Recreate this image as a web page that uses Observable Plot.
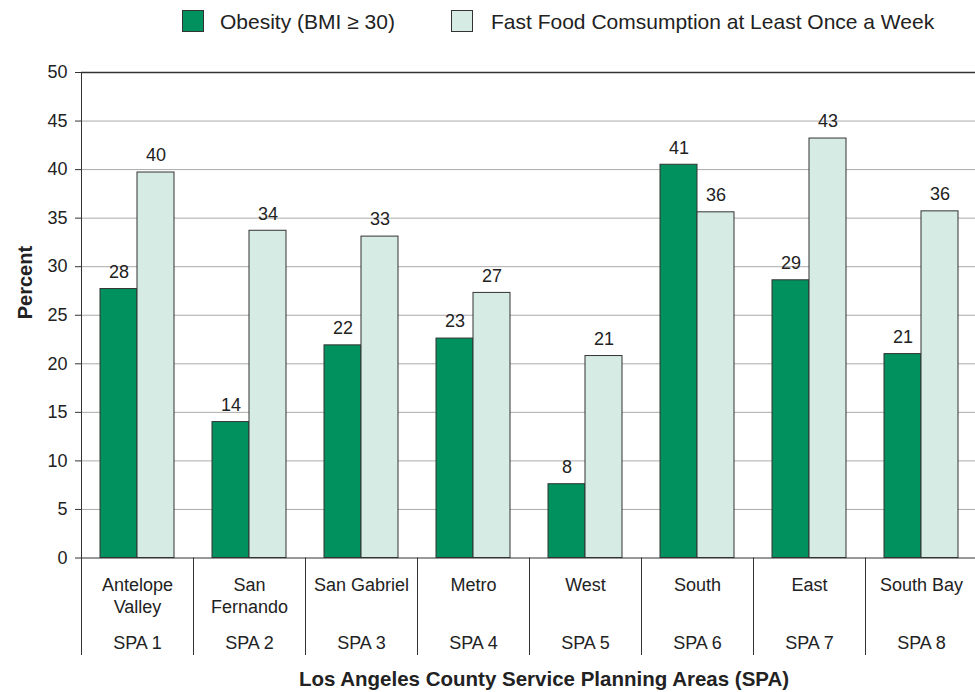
<!DOCTYPE html>
<html>
<head>
<meta charset="utf-8">
<script src="https://cdn.jsdelivr.net/npm/d3@7"></script>
<script src="https://cdn.jsdelivr.net/npm/@observablehq/plot@0.6"></script>
<style>
  html, body { margin: 0; padding: 0; background: #fff; }
  body { position: relative; width: 975px; height: 692px; overflow: hidden;
         font-family: "Liberation Sans", Arial, Helvetica, sans-serif; color: #222; }
  #legend { position: absolute; left: 0; top: 0; width: 975px; height: 50px; }
  .sw { position: absolute; top: 10px; width: 22px; height: 22px; border: 1px solid #333; box-sizing: border-box; }
  .lt { position: absolute; top: 21px; transform: translateY(-50%); font-size: 21px; white-space: nowrap; line-height: 1; }
  #chart { position: absolute; left: 0; top: 50px; }
  #xtitle { position: absolute; left: 0; top: 667px; width: 975px; padding-left: 113px; box-sizing: border-box;
            text-align: center; font-weight: bold; font-size: 20.5px; line-height: 24px; white-space: nowrap; }
</style>
</head>
<body>
<div id="legend"></div>
<div id="chart"></div>
<div id="xtitle"></div>
<script>
const categories = ["Antelope\nValley", "San\nFernando", "San Gabriel", "Metro", "West", "South", "East", "South Bay"];
const spaLabels = ["SPA 1", "SPA 2", "SPA 3", "SPA 4", "SPA 5", "SPA 6", "SPA 7", "SPA 8"];
const series = ["Obesity (BMI \u2265 30)", "Fast Food Comsumption at Least Once a Week"];
const obesity = [27.7, 14.0, 21.9, 22.6, 7.6, 40.5, 28.6, 21.0];
const fastFood = [39.7, 33.7, 33.1, 27.3, 20.8, 35.6, 43.2, 35.7];
const yTicks = [0, 5, 10, 15, 20, 25, 30, 35, 40, 45, 50];
const yLabel = "Percent";
const xLabel = "Los Angeles County Service Planning Areas (SPA)";
const colors = ["#00915e", "#d5ebe3"];

const rows = categories.flatMap((c, i) => [
  {cat: c, spa: spaLabels[i], series: series[0], value: obesity[i]},
  {cat: c, spa: spaLabels[i], series: series[1], value: fastFood[i]}
]);
const catRows = categories.map((c, i) => ({cat: c, spa: spaLabels[i]}));

// legend
const legend = document.getElementById("legend");
const swLeft = [182, 451], txLeft = [220, 491];
series.forEach((s, i) => {
  const sw = document.createElement("div");
  sw.className = "sw"; sw.style.left = swLeft[i] + "px"; sw.style.background = colors[i];
  const t = document.createElement("div");
  t.className = "lt"; t.style.left = txLeft[i] + "px"; t.textContent = s;
  legend.append(sw, t);
});
document.getElementById("xtitle").textContent = xLabel;

const plotHeight = 610, mTop = 22, mBottom = 102.5;
const innerH = plotHeight - mTop - mBottom;

const plot = Plot.plot({
  width: 975,
  height: plotHeight,
  marginTop: mTop,
  marginBottom: mBottom,
  marginLeft: 78,
  marginRight: -5,
  style: {fontFamily: '"Liberation Sans", Arial, Helvetica, sans-serif', fontSize: "18px", color: "#222", background: "#fff", overflow: "visible"},
  fx: {domain: categories, padding: 0, axis: null},
  x: {domain: series, paddingInner: 0, paddingOuter: 0.484, axis: null},
  y: {domain: [0, 50], axis: null},
  color: {domain: series, range: colors},
  marks: [
    Plot.gridY(yTicks.filter(t => t > 0 && t < 50), {stroke: "#ababab", strokeOpacity: 1}),
    Plot.ruleY([50], {stroke: "#333", strokeWidth: 1.5}),
    Plot.barY(rows, {fx: "cat", x: "series", y: "value", fill: "series", stroke: "#333", strokeWidth: 1}),
    Plot.ruleY([0], {stroke: "#333", strokeWidth: 1}),
    // category separators below the baseline
    Plot.frame({anchor: "left", stroke: "#333", strokeWidth: 1, insetTop: innerH, insetBottom: -96.5}),
    // y axis line (leftmost facet only)
    Plot.frame({anchor: "left", facetAnchor: "left", stroke: "#333", strokeWidth: 1, insetBottom: 0}),
    Plot.axisY({ticks: yTicks, tickSize: 6, tickPadding: 8, stroke: "#333", fill: "#222", fontSize: 18, label: null}),
    Plot.text([{cat: categories[0]}], {fx: "cat", text: () => yLabel, frameAnchor: "left", dx: -56, dy: 4, rotate: -90, fontWeight: "bold", fontSize: 20, fill: "#222"}),
    Plot.text(rows, {fx: "cat", x: "series", y: "value", text: d => String(Math.round(d.value)), dy: -17, fontSize: 18, fill: "#222"}),
    Plot.text(catRows, {fx: "cat", text: "cat", frameAnchor: "bottom", lineAnchor: "top", dy: 17, lineHeight: 1.25, fontSize: 18, fill: "#222"}),
    Plot.text(catRows, {fx: "cat", text: "spa", frameAnchor: "bottom", dy: 91, fontSize: 18, fill: "#222"})
  ]
});
document.getElementById("chart").append(plot);
</script>
</body>
</html>
